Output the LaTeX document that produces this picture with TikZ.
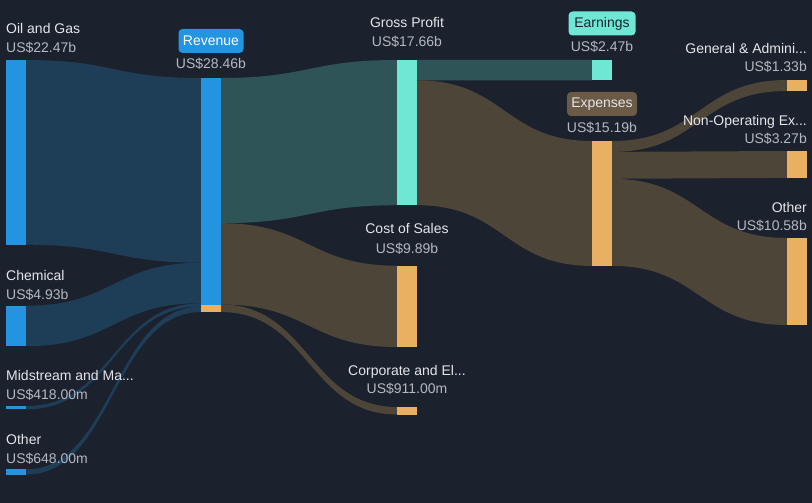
\documentclass[tikz,border=0pt]{standalone}
\usepackage{fontspec}
\setmainfont{Liberation Sans}
\definecolor{bg}{HTML}{1C212E}
\definecolor{barblue}{HTML}{2394DF}
\definecolor{barteal}{HTML}{6EE8D5}
\definecolor{barorange}{HTML}{E8B060}
\definecolor{flowblue}{HTML}{1E3D57}
\definecolor{flowteal}{HTML}{2F5457}
\definecolor{flowbrown}{HTML}{4D4538}
\definecolor{boxbrown}{HTML}{6B5A45}
\definecolor{namecol}{HTML}{E4E6EA}
\definecolor{valcol}{HTML}{B4B8C0}
\tikzset{
  namelbl/.style={text=namecol,inner sep=0pt,font=\fontsize{14}{14}\selectfont},
  vallbl/.style={text=valcol,inner sep=0pt,font=\fontsize{14}{14}\selectfont},
  tagbox/.style={rounded corners=4pt,inner sep=0pt,minimum height=24pt,font=\fontsize{14}{14}\selectfont},
}
% band between two bars
\newcommand{\flow}[5]{\fill[#1] (#2) .. controls +(87.5,0) and +(-87.5,0) .. (#4) -- (#5) .. controls +(-87.5,0) and +(87.5,0) .. (#3) -- cycle;}
\begin{document}
\begin{tikzpicture}[x=1pt,y=-1pt]
  \fill[bg] (0,0) rectangle (812,503);
  \useasboundingbox (0,0) rectangle (812,503);

  %ends of the bands
  \coordinate (oil1) at (26,60);      \coordinate (oil2) at (26,244.7);
  \coordinate (chem1) at (26,305.7);  \coordinate (chem2) at (26,346.2);
  \coordinate (mid1) at (26,406);     \coordinate (mid2) at (26,409.4);
  \coordinate (oth1) at (26,469.3);   \coordinate (oth2) at (26,474.6);
  \coordinate (rin1) at (201,78);     \coordinate (rin2) at (201,262.7);
  \coordinate (rin3) at (201,303.2);  \coordinate (rin4) at (201,306.6);
  \coordinate (rin5) at (201,312);
  \coordinate (rout1) at (221,78);    \coordinate (rout2) at (221,223.2);
  \coordinate (rout3) at (221,304.5); \coordinate (rout4) at (221,312);
  \coordinate (gin1) at (397,60);     \coordinate (gin2) at (397,205.2);
  \coordinate (cin1) at (397,265.7);  \coordinate (cin2) at (397,347);
  \coordinate (kin1) at (397,407);    \coordinate (kin2) at (397,414.5);
  \coordinate (gout1) at (417,60);    \coordinate (gout2) at (417,80.3);
  \coordinate (gout3) at (417,205.2);
  \coordinate (ein1) at (592,60);     \coordinate (ein2) at (592,80.3);
  \coordinate (xin1) at (592,141);    \coordinate (xin2) at (592,265.9);
  \coordinate (xout1) at (612,141);   \coordinate (xout2) at (612,151.9);
  \coordinate (xout3) at (612,178.8); \coordinate (xout4) at (612,265.9);
  \coordinate (ga1) at (787,80);      \coordinate (ga2) at (787,91);
  \coordinate (no1) at (787,151);     \coordinate (no2) at (787,177.9);
  \coordinate (ro1) at (787,238);     \coordinate (ro2) at (787,325);

  %BANDS
  \flow{flowblue}{oil1}{oil2}{rin1}{rin2}
  \flow{flowblue}{chem1}{chem2}{rin2}{rin3}
  \flow{flowblue}{mid1}{mid2}{rin3}{rin4}
  \flow{flowblue}{oth1}{oth2}{rin4}{rin5}
  \flow{flowteal}{rout1}{rout2}{gin1}{gin2}
  \flow{flowbrown}{rout2}{rout3}{cin1}{cin2}
  \flow{flowbrown}{rout3}{rout4}{kin1}{kin2}
  \flow{flowteal}{gout1}{gout2}{ein1}{ein2}
  \flow{flowbrown}{gout2}{gout3}{xin1}{xin2}
  \flow{flowbrown}{xout1}{xout2}{ga1}{ga2}
  \flow{flowbrown}{xout2}{xout3}{no1}{no2}
  \flow{flowbrown}{xout3}{xout4}{ro1}{ro2}

  %BARS
  \fill[barblue] (6,60) rectangle (oil2);
  \fill[barblue] (6,305.7) rectangle (chem2);
  \fill[barblue] (6,406) rectangle (mid2);
  \fill[barblue] (6,469.3) rectangle (oth2);
  \fill[barblue] (rin1) rectangle (rout3);
  \fill[barorange] (201,304.5) rectangle (rout4);
  \fill[barteal] (gin1) rectangle (gout3);
  \fill[barorange] (cin1) rectangle (417,347);
  \fill[barorange] (kin1) rectangle (417,414.5);
  \fill[barteal] (ein1) rectangle (612,80.3);
  \fill[barorange] (xin1) rectangle (xout4);
  \fill[barorange] (ga1) rectangle (807,91);
  \fill[barorange] (no1) rectangle (807,177.9);
  \fill[barorange] (ro1) rectangle (807,325);

  %LABELS
  \node[namelbl,anchor=base west] (oilN) at (6,34) {Oil and Gas};
  \node[vallbl,anchor=base west] (oilV) at (6,53) {US\$22.47b};
  \node[namelbl,anchor=base west] (chemN) at (6,280) {Chemical};
  \node[vallbl,anchor=base west] (chemV) at (6,299) {US\$4.93b};
  \node[namelbl,anchor=base west] (midN) at (6,380) {Midstream and Ma...};
  \node[vallbl,anchor=base west] (midV) at (6,399) {US\$418.00m};
  \node[namelbl,anchor=base west] (othN) at (6,444) {Other};
  \node[vallbl,anchor=base west] (othV) at (6,463) {US\$648.00m};

  \node[tagbox,fill=barblue,text=white,minimum width=65pt] (revN) at (211,41) {Revenue};
  \node[vallbl,anchor=base] (revV) at (211,69) {US\$28.46b};
  \node[namelbl,anchor=base] (gpN) at (407,28) {Gross Profit};
  \node[vallbl,anchor=base] (gpV) at (407,47) {US\$17.66b};
  \node[namelbl,anchor=base] (cosN) at (407,233) {Cost of Sales};
  \node[vallbl,anchor=base] (cosV) at (407,253) {US\$9.89b};
  \node[namelbl,anchor=base] (corN) at (407,375) {Corporate and El...};
  \node[vallbl,anchor=base] (corV) at (407,393) {US\$911.00m};

  \node[tagbox,fill=barteal,text=bg,minimum width=67pt] (earN) at (602,23.5) {Earnings};
  \node[vallbl,anchor=base] (earV) at (602,52) {US\$2.47b};
  \node[tagbox,fill=boxbrown,text=namecol,minimum width=70pt] (expN) at (602,104) {Expenses};
  \node[vallbl,anchor=base] (expV) at (602,132) {US\$15.19b};

  \node[namelbl,anchor=base east] (gaN) at (807,54) {General \& Admini...};
  \node[vallbl,anchor=base east] (gaV) at (807,72) {US\$1.33b};
  \node[namelbl,anchor=base east] (noN) at (807,125) {Non-Operating Ex...};
  \node[vallbl,anchor=base east] (noV) at (807,143) {US\$3.27b};
  \node[namelbl,anchor=base east] (roN) at (807,212) {Other};
  \node[vallbl,anchor=base east] (roV) at (807,230) {US\$10.58b};
\end{tikzpicture}
\end{document}
